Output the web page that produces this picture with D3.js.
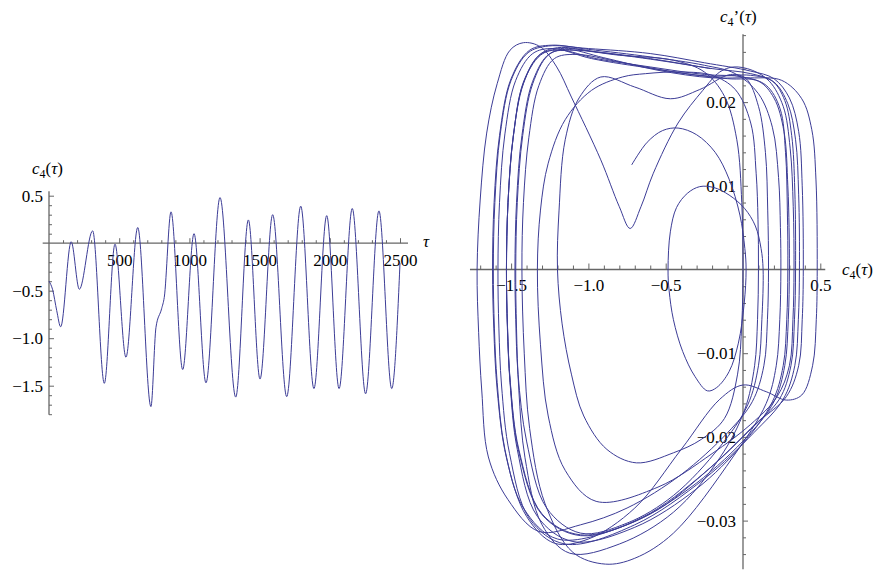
<html>
<head>
  <meta charset="utf-8">
  <title>c4 phase</title>
  <script src="https://cdn.jsdelivr.net/npm/d3@7"></script>
  <style>
    body {
      margin: 0;
      background-color: #fff;
    }
  </style>
</head>

<body>
  <div id="chart"></div>
  <script>
    // left plot: c4(tau), read at the extrema (plus the shoulders)
    const tau = [0, 26, 55, 83, 158, 216, 311, 394, 470, 548, 632, 726, 762, 802, 821, 869, 952, 1033, 1118, 1218,
      1330, 1420, 1503, 1593, 1693, 1793, 1887, 1978, 2066, 2160, 2255, 2350, 2441, 2500]
    const c4 = [-0.4, -0.49, -0.71, -0.88, 0.015, -0.485, 0.13, -1.475, -0.01, -1.2, 0.165, -1.72, -0.885, -0.69, -0.57, 0.33, -1.33, 0.10, -1.47, 0.48,
      -1.62, 0.245, -1.43, 0.30, -1.615, 0.39, -1.53, 0.29, -1.53, 0.365, -1.585, 0.34, -1.53, -0.21]

    const tauTicks = [500, 1000, 1500, 2000, 2500]
    const tauLabels = ["500", "1000", "1500", "2000", "2500"]
    const c4Ticks = [0.5, -0.5, -1.0, -1.5]
    const c4Labels = ["0.5", "\u22120.5", "\u22121.0", "\u22121.5"]

    // right plot: phase portrait (c4, c4'), one arc per half swing
    const phase = [
      // start -> 0.02
      [-0.72, 0.0125], [-0.62, 0.0152], [-0.52, 0.0166], [-0.42, 0.0169], [-0.3, 0.0161], [-0.18, 0.014], [-0.09, 0.0108], [-0.02, 0.0065], [0.012, 0.0025], [0.02, 0],
      [0.008, -0.004], [-0.03, -0.0088], [-0.09, -0.0122], [-0.17, -0.0141], [-0.23, -0.0145], [-0.31, -0.0128], [-0.39, -0.0098], [-0.45, -0.006], [-0.478, -0.0025], [-0.485, 0],
      [-0.47, 0.0045], [-0.43, 0.0074], [-0.36, 0.0091], [-0.28, 0.0099], [-0.19, 0.0098], [-0.09, 0.0089], [0.01, 0.0073], [0.08, 0.0052], [0.117, 0.0025], [0.13, 0],
      [0.122, -0.006], [0.1, -0.0115], [0.03, -0.0162], [-0.15, -0.0212], [-0.45, -0.027], [-0.75, -0.0303], [-1.05, -0.0315], [-1.27, -0.0285], [-1.4, -0.0205], [-1.455, -0.0125], [-1.47, -0.006], [-1.475, 0],
      [-1.465, 0.008], [-1.43, 0.016], [-1.36, 0.0225], [-1.25, 0.0258], [-1.1, 0.0262], [-0.8, 0.0256], [-0.45, 0.025], [-0.25, 0.0236], [-0.12, 0.0207], [-0.04, 0.0155], [-0.008, 0.008], [0.0, 0],
      [-0.008, -0.0065], [-0.035, -0.0125], [-0.12, -0.0178], [-0.27, -0.0203], [-0.45, -0.0219], [-0.69, -0.0231], [-0.88, -0.0215], [-1.03, -0.0175], [-1.11, -0.0125], [-1.17, -0.0065], [-1.2, 0],
      [-1.19, 0.007], [-1.15, 0.0155], [-1.06, 0.0205], [-0.92, 0.023], [-0.7, 0.0218], [-0.47, 0.0204], [-0.28, 0.0215], [-0.08, 0.0233], [0.02, 0.0228], [0.1, 0.0195], [0.145, 0.014], [0.16, 0.007], [0.165, 0],
      [0.158, -0.006], [0.135, -0.0115], [0.06, -0.0158], [-0.1, -0.0195], [-0.4, -0.0245], [-0.75, -0.0285], [-1.05, -0.0305], [-1.32, -0.0313], [-1.52, -0.0275], [-1.647, -0.0224], [-1.69, -0.0144], [-1.71, -0.0075], [-1.72, 0],
      // swing with the shoulder (V near -0.73)
      [-1.7, 0.0083], [-1.658, 0.0163], [-1.59, 0.0222], [-1.507, 0.0262], [-1.42, 0.0271], [-1.31, 0.0266], [-1.205, 0.0242], [-1.11, 0.0206], [-0.92, 0.0131], [-0.8, 0.0075], [-0.73, 0.0049], [-0.66, 0.0075], [-0.58, 0.0115], [-0.42, 0.0175], [-0.26, 0.0214], [-0.15, 0.0236], [-0.06, 0.0242], [0.06, 0.0238], [0.17, 0.0225], [0.26, 0.0195], [0.305, 0.0145], [0.325, 0.0075], [0.33, 0],
      [0.323, -0.006], [0.3, -0.0115], [0.22, -0.0152], [0.05, -0.0185], [-0.2, -0.022], [-0.55, -0.026], [-0.95, -0.0277], [-1.15, -0.024], [-1.26, -0.0175], [-1.31, -0.009], [-1.33, 0],
      [-1.31, 0.0071], [-1.26, 0.0127], [-1.15, 0.0179], [-0.98, 0.0214], [-0.78, 0.023], [-0.63, 0.0234], [-0.4, 0.0236], [-0.2, 0.0232], [-0.05, 0.0215], [0.05, 0.0175], [0.085, 0.0115], [0.097, 0.006], [0.1, 0],
      [0.094, -0.006], [0.075, -0.0115], [0.01, -0.0168], [-0.15, -0.0225], [-0.45, -0.029], [-0.8, -0.0328], [-1.12, -0.0339], [-1.3, -0.0305], [-1.41, -0.0225], [-1.45, -0.0144], [-1.465, -0.007], [-1.47, 0],
      [-1.46, 0.008], [-1.425, 0.016], [-1.36, 0.0222], [-1.26, 0.0256], [-1.15, 0.0263], [-0.9, 0.0253], [-0.55, 0.0238], [-0.2, 0.0229], [0.05, 0.0229], [0.25, 0.0226], [0.38, 0.0204], [0.445, 0.0167], [0.472, 0.0107], [0.48, 0],
      [0.474, -0.006], [0.45, -0.0115], [0.38, -0.015], [0.28, -0.0156], [0.15, -0.0146], [0.0, -0.0138], [-0.15, -0.0155], [-0.4, -0.0215], [-0.7, -0.0285], [-1.0, -0.0322], [-1.22, -0.0327], [-1.4, -0.0295], [-1.53, -0.0225], [-1.59, -0.0144], [-1.612, -0.007], [-1.62, 0],
      [-1.61, 0.008], [-1.575, 0.016], [-1.5, 0.0228], [-1.38, 0.0262], [-1.24, 0.0268], [-1.0, 0.0263], [-0.6, 0.0254], [-0.25, 0.0244], [-0.05, 0.0234], [0.1, 0.021], [0.19, 0.017], [0.23, 0.011], [0.242, 0.005], [0.245, 0],
      [0.238, -0.006], [0.215, -0.0115], [0.15, -0.016], [-0.065, -0.0224], [-0.45, -0.0315], [-0.7, -0.0345], [-0.89, -0.0352], [-1.1, -0.0338], [-1.28, -0.028], [-1.38, -0.019], [-1.415, -0.01], [-1.43, 0],
      [-1.42, 0.008], [-1.385, 0.0158], [-1.32, 0.022], [-1.22, 0.0252], [-1.08, 0.0257], [-0.8, 0.0248], [-0.45, 0.0236], [-0.1, 0.0228], [0.1, 0.0225], [0.2, 0.0205], [0.265, 0.0165], [0.29, 0.01], [0.298, 0.005], [0.3, 0],
      [0.293, -0.006], [0.27, -0.0115], [0.2, -0.0158], [0.0, -0.0205], [-0.35, -0.0262], [-0.75, -0.0305], [-1.2, -0.0322], [-1.42, -0.0285], [-1.54, -0.0215], [-1.59, -0.0135], [-1.608, -0.007], [-1.615, 0],
      [-1.605, 0.008], [-1.57, 0.0162], [-1.5, 0.0226], [-1.39, 0.0259], [-1.26, 0.0267], [-1.0, 0.0264], [-0.6, 0.0258], [-0.25, 0.0247], [0.05, 0.0237], [0.2, 0.0228], [0.3, 0.0205], [0.36, 0.0165], [0.383, 0.01], [0.39, 0],
      [0.383, -0.006], [0.36, -0.0115], [0.28, -0.0152], [0.1, -0.0182], [-0.2, -0.0235], [-0.6, -0.0292], [-1.05, -0.0317], [-1.3, -0.0292], [-1.45, -0.0215], [-1.505, -0.0135], [-1.523, -0.007], [-1.53, 0],
      [-1.52, 0.008], [-1.485, 0.016], [-1.42, 0.0224], [-1.31, 0.0257], [-1.18, 0.0262], [-0.95, 0.0252], [-0.6, 0.0242], [-0.25, 0.0233], [0.0, 0.023], [0.15, 0.022], [0.24, 0.0192], [0.275, 0.014], [0.287, 0.007], [0.29, 0],
      [0.283, -0.006], [0.26, -0.0115], [0.19, -0.0158], [0.0, -0.0208], [-0.3, -0.0262], [-0.7, -0.0308], [-1.1, -0.0325], [-1.33, -0.0295], [-1.46, -0.0215], [-1.507, -0.0135], [-1.524, -0.007], [-1.53, 0],
      [-1.52, 0.008], [-1.487, 0.0158], [-1.42, 0.0222], [-1.32, 0.0256], [-1.2, 0.0265], [-0.95, 0.026], [-0.55, 0.025], [-0.2, 0.024], [0.05, 0.0234], [0.2, 0.0224], [0.29, 0.0198], [0.34, 0.0155], [0.36, 0.009], [0.365, 0],
      [0.358, -0.006], [0.335, -0.0115], [0.26, -0.0155], [0.07, -0.0195], [-0.25, -0.025], [-0.7, -0.0305], [-1.15, -0.0328], [-1.38, -0.0298], [-1.51, -0.022], [-1.562, -0.0138], [-1.579, -0.007], [-1.585, 0],
      [-1.575, 0.008], [-1.54, 0.0162], [-1.47, 0.0226], [-1.36, 0.0258], [-1.23, 0.0264], [-0.98, 0.0252], [-0.58, 0.024], [-0.22, 0.0231], [0.05, 0.0232], [0.19, 0.0225], [0.27, 0.0202], [0.315, 0.016], [0.335, 0.0095], [0.34, 0],
      [0.333, -0.006], [0.31, -0.0115], [0.235, -0.0155], [0.05, -0.019], [-0.25, -0.0243], [-0.65, -0.0296], [-1.05, -0.0318], [-1.3, -0.0293], [-1.45, -0.0218], [-1.505, -0.0137], [-1.523, -0.007], [-1.53, 0],
      // last swing, ends on the top band
      [-1.52, 0.008], [-1.485, 0.016], [-1.42, 0.0223], [-1.31, 0.0256], [-1.18, 0.0264], [-0.95, 0.026], [-0.6, 0.0252], [-0.21, 0.024]
    ]

    const phaseXTicks = [-1.5, -1.0, -0.5, 0.5]
    const phaseXLabels = ["\u22121.5", "\u22121.0", "\u22120.5", "0.5"]
    const phaseYTicks = [0.02, 0.01, -0.01, -0.02, -0.03]
    const phaseYLabels = ["0.02", "0.01", "\u22120.01", "\u22120.02", "\u22120.03"]

    const W = 875, H = 571
    const lineColor = "#3c3c96"
    const axisColor = "#666"
    const fontSize = 17
    const serif = "Liberation Serif, Times New Roman, serif"

    let svg = d3.select("#chart").append("svg")
      .attr("width", W)
      .attr("height", H)
      .attr("font-family", serif)

    //scales
    let xL = d3.scaleLinear().domain([0, 2500]).range([49, 400])
    let yL = d3.scaleLinear().domain([0.5, -1.5]).range([195.7, 385.7])
    let xR = d3.scaleLinear().domain([-1.5, 0.5]).range([511.1, 820.3])
    let yR = d3.scaleLinear().domain([0.02, -0.03]).range([102.1, 520.6])

    //horizontal axis, ticks pointing up, labels below
    function hAxis(scale, y, minor, major, labels, minorLen, majorLen, labelY) {
      let g = svg.append("g")
      g.append("g").attr("transform", `translate(0,${y})`)
        .call(d3.axisTop(scale).tickValues(minor).tickSize(minorLen).tickFormat(""))
        .call(a => a.select(".domain").remove())
      g.append("g").attr("transform", `translate(0,${y})`)
        .call(d3.axisTop(scale).tickValues(major).tickSize(majorLen)
          .tickPadding(-majorLen - labelY).tickFormat((d, i) => labels[i]))
        .call(a => a.select(".domain").remove())
      g.selectAll("g").attr("font-family", serif).attr("font-size", fontSize)
      g.selectAll("line").attr("stroke", axisColor)
      g.selectAll("text").attr("fill", "#000")
      return g
    }

    //vertical axis, ticks pointing right, labels left
    function vAxis(scale, x, minor, major, labels, minorLen, majorLen, gap) {
      let g = svg.append("g")
      g.append("g").attr("transform", `translate(${x},0)`)
        .call(d3.axisRight(scale).tickValues(minor).tickSize(minorLen).tickFormat(""))
        .call(a => a.select(".domain").remove())
      g.append("g").attr("transform", `translate(${x},0)`)
        .call(d3.axisRight(scale).tickValues(major).tickSize(majorLen).tickFormat((d, i) => labels[i]))
        .call(a => a.select(".domain").remove())
      g.selectAll("g").attr("font-family", serif).attr("font-size", fontSize)
      g.selectAll("line").attr("stroke", axisColor)
      g.selectAll("text").attr("fill", "#000")
        .attr("text-anchor", "end").attr("x", -gap)
      return g
    }

    // ---- left plot ----
    let tauMinor = d3.range(100, 2501, 100).filter(d => d % 500 != 0)
    let c4Minor = d3.range(-18, 6, 1).map(d => d / 10).filter(d => Math.abs(d * 10 % 5) > 0.01)
    hAxis(xL, yL(0), tauMinor, tauTicks, tauLabels, 3, 5, 23)
    vAxis(yL, xL(0), c4Minor, c4Ticks, c4Labels, 3, 5, 6)

    svg.append("line")
      .attr("x1", xL(-45)).attr("x2", xL(2557))
      .attr("y1", yL(0)).attr("y2", yL(0))
      .attr("stroke", axisColor).attr("stroke-width", 1.3)
    svg.append("line")
      .attr("x1", xL(0)).attr("x2", xL(0))
      .attr("y1", yL(0.548)).attr("y2", yL(-1.805))
      .attr("stroke", axisColor).attr("stroke-width", 1.3)

    let series = tau.map((t, i) => [t, c4[i]])
    svg.append("path")
      .datum(series)
      .attr("fill", "none")
      .attr("stroke", lineColor)
      .attr("stroke-width", 1)
      .attr("d", d3.line().x(d => xL(d[0])).y(d => yL(d[1])).curve(d3.curveMonotoneX))

    //axis labels
    function fnLabel(x, y, prime) {
      let t = svg.append("text").attr("x", x).attr("y", y).attr("font-size", fontSize)
      t.append("tspan").attr("font-style", "italic").text("c")
      t.append("tspan").attr("font-size", 12).attr("dy", 4).text("4")
      t.append("tspan").attr("dy", -4).text(prime ? "\u2019(" : "(")
      t.append("tspan").attr("font-style", "italic").text("\u03c4")
      t.append("tspan").text(")")
      return t
    }
    fnLabel(32, 174, false)

    svg.append("text").attr("x", 423).attr("y", 247).attr("font-size", fontSize)
      .attr("font-style", "italic").text("\u03c4")

    // ---- right plot ----
    let pxMinor = d3.range(-17, 6, 1).map(d => d / 10).filter(d => Math.abs(d * 10 % 5) > 0.01)
    let pyMinor = d3.range(-34, 29, 2).map(d => d / 1000).filter(d => Math.abs(d * 1000 % 10) > 0.01)
    hAxis(xR, yR(0), pxMinor, phaseXTicks, phaseXLabels, 4, 6, 21)
    vAxis(yR, xR(0), pyMinor, phaseYTicks, phaseYLabels, 3, 5, 7)

    svg.append("line")
      .attr("x1", xR(-1.766)).attr("x2", xR(0.532))
      .attr("y1", yR(0)).attr("y2", yR(0))
      .attr("stroke", axisColor).attr("stroke-width", 1.3)
    svg.append("line")
      .attr("x1", xR(0)).attr("x2", xR(0))
      .attr("y1", yR(0.0281)).attr("y2", yR(-0.0358))
      .attr("stroke", axisColor).attr("stroke-width", 1.3)

    svg.append("path")
      .datum(phase)
      .attr("fill", "none")
      .attr("stroke", lineColor)
      .attr("stroke-width", 1)
      .attr("d", d3.line().x(d => xR(d[0])).y(d => yR(d[1])).curve(d3.curveCatmullRom.alpha(0.5)))

    fnLabel(842, 275, false)
    fnLabel(720, 22, true)
  </script>
</body>

</html>
